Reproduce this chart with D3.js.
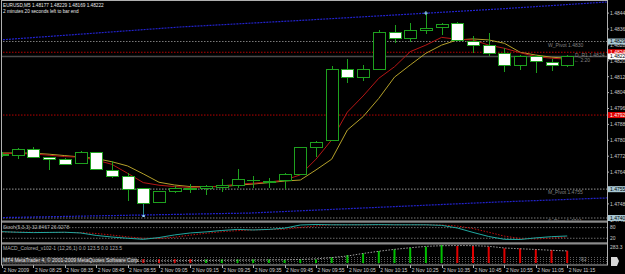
<!DOCTYPE html>
<html>
<head>
<meta charset="utf-8">
<title>EURUSD,M5</title>
<style>
body { margin: 0; background: #000; }
svg { display: block; }
text { font-family: "Liberation Sans", Arial, sans-serif; font-size: 5px; }
</style>
</head>
<body>
<svg width="625" height="274"></svg>
<script src="https://cdn.jsdelivr.net/npm/d3@7"></script>
<script>

// ---- data ----
var opens  = [1.47726,1.47725,1.47755,1.47711,1.47701,1.47684,1.47738,1.47647,1.47619,1.47557,1.47488,1.47542,1.47553,1.47559,1.47564,1.47572,1.47599,1.47595,1.47600,1.47626,1.47765,1.47798,1.48154,1.48117,1.48157,1.48341,1.48313,1.48350,1.48368,1.48389,1.48296,1.48276,1.48238,1.48175,1.48224,1.48192,1.48177];
var highs  = [1.47741,1.47761,1.47765,1.47714,1.47711,1.47746,1.47743,1.47696,1.47637,1.47560,1.47543,1.47570,1.47579,1.47575,1.47604,1.47654,1.47622,1.47610,1.47637,1.47766,1.47798,1.48174,1.48208,1.48179,1.48355,1.48380,1.48389,1.48440,1.48389,1.48397,1.48325,1.48341,1.48263,1.48227,1.48227,1.48208,1.48229];
var lows   = [1.47716,1.47706,1.47709,1.47651,1.47678,1.47681,1.47651,1.47610,1.47495,1.47419,1.47485,1.47534,1.47534,1.47525,1.47542,1.47559,1.47559,1.47559,1.47554,1.47623,1.47718,1.47797,1.48090,1.48100,1.48154,1.48288,1.48296,1.48335,1.48330,1.48300,1.48241,1.48224,1.48145,1.48154,1.48137,1.48150,1.48169];
var closes = [1.47731,1.47755,1.47711,1.47703,1.47679,1.47740,1.47654,1.47619,1.47554,1.47483,1.47540,1.47559,1.47558,1.47570,1.47572,1.47605,1.47600,1.47590,1.47629,1.47765,1.47788,1.48157,1.48117,1.48157,1.48343,1.48313,1.48350,1.48363,1.48384,1.48301,1.48279,1.48238,1.48175,1.48224,1.48195,1.48175,1.48222];

var maFast = [1.47734,1.47734,1.47731,1.47725,1.47718,1.47715,1.47701,1.47679,1.47634,1.47587,1.47574,1.47567,1.47563,1.47565,1.47570,1.47579,1.47584,1.47590,1.47600,1.47626,1.47705,1.47802,1.47942,1.48023,1.48112,1.48170,1.48246,1.48279,1.48318,1.48308,1.48305,1.48279,1.48263,1.48241,1.48221,1.48213,1.48208];
var maSlow = [1.47736,1.47736,1.47735,1.47730,1.47723,1.47716,1.47708,1.47692,1.47671,1.47631,1.47589,1.47575,1.47567,1.47567,1.47567,1.47574,1.47580,1.47587,1.47595,1.47600,1.47651,1.47705,1.47852,1.47919,1.48011,1.48118,1.48179,1.48238,1.48279,1.48305,1.48310,1.48305,1.48288,1.48243,1.48229,1.48218,1.48213];

// channel lines: [bar index, price]
var upperBand = [[-0.13,1.48305],[11.34,1.48370],[18.98,1.48403],[31.72,1.48461],[38.54,1.48496]];
var lowerBand = [[-0.13,1.47411],[15.8,1.47434],[31.72,1.47490],[38.54,1.47510]];

var pivotNames  = ["W_Pivot", "M_Pivot", "S_Pivot"];
var pivotPrices = [1.48297, 1.47554, 1.47409];
var redLevels   = [1.48243, 1.47927];
var bid = 1.48222;

var stochMain   = [57,54,52,53,54,50,36,27,20,14,24,39,50,56,64,70,67,70,77,95,98,96,96,96,97,96,96,96,93,78,53,30,14,13,22,29,32.8467];
var stochSignal = [55,55,54,53,53,52,47,38,28,20,19,26,38,48,57,63,67,69,71,81,90,96,96,96,96,96,96,96,95,89,75,54,32,19,16,21,26.9278];
var stochLevels = [80, 20];

var macdHist   = [0,0,0,0,0,0,0,0,0,60,60,60,60,55,55,55,55,55,47,55,55,90,126,153,189,216,241,257,283,268,268,257,231,231,216,205,194];
var macdUp     = [1,1,1,1,1,1,1,1,1,0,0,0,0,1,1,1,1,1,1,1,1,1,1,1,1,1,1,1,1,0,0,0,0,0,0,0,0];
var macdSignal = [40,40,40,38,36,34,32,30,30,32,34,36,38,40,42,44,46,48,50,55,65,85,110,150,185,215,240,262,272,275,273,263,236,224,213,200,190];

var priceTicks = [1.4844,1.4836,1.4828,1.4820,1.4812,1.4804,1.4796,1.4788,1.4780,1.4772,1.4764,1.4756,1.4748,1.4740];
var timeBars   = [0,2,4,6,8,10,12,14,16,18,20,22,24,26,28,30,32,34,36];
var timeLabels = ["2 Nov 2009","2 Nov 08:25","2 Nov 08:35","2 Nov 08:45","2 Nov 08:55","2 Nov 09:05","2 Nov 09:15","2 Nov 09:25","2 Nov 09:35","2 Nov 09:45","2 Nov 09:55","2 Nov 10:05","2 Nov 10:15","2 Nov 10:25","2 Nov 10:35","2 Nov 10:45","2 Nov 10:55","2 Nov 11:05","2 Nov 11:15"];

var symbol = "EURUSD,M5";
var countdown = "2 minutes 20 seconds left to bar end";

// ---- layout ----
var svg = d3.select("svg"),
    width = +svg.attr("width"),
    height = +svg.attr("height");
var axisX = 607;

var x = d3.scaleLinear().domain([0, 36]).range([2, 567.2]);
var y = d3.scaleLinear().domain([1.4740, 1.4844]).range([219.8, 13.1]);
var ySt = d3.scaleLinear().domain([0, 100]).range([241.8, 224.1]);
var yMd = d3.scaleLinear().domain([0, 283.3]).range([263, 245]);
var fmt5 = d3.format(".5f"), fmt4 = d3.format(".4f");

svg.append("rect").attr("width", width).attr("height", height).attr("fill", "#000");

var defs = svg.append("defs");
defs.append("clipPath").attr("id", "cMain").append("rect").attr("x", 1).attr("y", 1).attr("width", axisX - 1).attr("height", 219.5);
defs.append("clipPath").attr("id", "cSt").append("rect").attr("x", 1).attr("y", 223).attr("width", axisX - 1).attr("height", 19.5);
defs.append("clipPath").attr("id", "cMd").append("rect").attr("x", 1).attr("y", 245).attr("width", axisX - 1).attr("height", 19.5);

// ---- main window ----
var main = svg.append("g").attr("clip-path", "url(#cMain)");

main.selectAll(".pivot").data(pivotPrices).enter().append("line")
    .attr("x1", 0).attr("x2", axisX)
    .attr("y1", function(d) { return y(d); }).attr("y2", function(d) { return y(d); })
    .attr("stroke", "#7a7a7a").attr("stroke-width", 1.2).attr("stroke-dasharray", "1.5,1.5");

main.selectAll(".redlvl").data(redLevels).enter().append("line")
    .attr("x1", 0).attr("x2", axisX)
    .attr("y1", function(d) { return y(d); }).attr("y2", function(d) { return y(d); })
    .attr("stroke", "#b80000").attr("stroke-width", 1).attr("stroke-dasharray", "1.5,1.5");

main.append("line").attr("x1", 0).attr("x2", axisX).attr("y1", y(bid)).attr("y2", y(bid))
    .attr("stroke", "#4a4a4a").attr("stroke-width", 1.5);

var band = d3.line().x(function(d) { return x(d[0]); }).y(function(d) { return y(d[1]); });
[upperBand, lowerBand].forEach(function(b) {
  main.append("path").attr("d", band(b)).attr("fill", "none")
      .attr("stroke", "#2222cc").attr("stroke-width", 1.2).attr("stroke-dasharray", "2,1");
});

var maLine = d3.line().x(function(d, i) { return x(i); }).y(function(d) { return y(d); });
main.append("path").attr("d", maLine(maSlow)).attr("fill", "none").attr("stroke", "#b4a02a").attr("stroke-width", 1);
main.append("path").attr("d", maLine(maFast)).attr("fill", "none").attr("stroke", "#b41616").attr("stroke-width", 1);

var candle = main.selectAll(".candle").data(opens).enter().append("g")
    .attr("shape-rendering", "crispEdges");
candle.append("line")
    .attr("x1", function(d, i) { return Math.round(x(i)) + 0.5; })
    .attr("x2", function(d, i) { return Math.round(x(i)) + 0.5; })
    .attr("y1", function(d, i) { return y(highs[i]); })
    .attr("y2", function(d, i) { return y(lows[i]); })
    .attr("stroke", function(d, i) { return i === 9 ? "#2a8c8c" : "#1ea01e"; });
candle.append("rect")
    .attr("x", function(d, i) { return Math.round(x(i)) - 5.5; })
    .attr("width", 12)
    .attr("y", function(d, i) { return y(Math.max(opens[i], closes[i])); })
    .attr("height", function(d, i) { return Math.max(0.5, Math.abs(y(opens[i]) - y(closes[i]))); })
    .attr("fill", function(d, i) { return closes[i] >= opens[i] ? "#000" : "#fff"; })
    .attr("stroke", "#1ea01e").attr("stroke-width", 1);

// fractal-style markers at the extremes
main.append("rect").attr("x", x(9) - 1).attr("y", y(lows[9]) - 1).attr("width", 2.5).attr("height", 2).attr("fill", "#8fd0ff");
main.append("path").attr("d", "M" + (x(27) - 2) + "," + y(highs[27]) + "h4M" + x(27) + "," + (y(highs[27]) - 2) + "v4")
    .attr("stroke", "#8fd0ff").attr("stroke-width", 1);

// pivot labels
main.selectAll(".plabel").data(pivotPrices).enter().append("text")
    .attr("x", 548).attr("y", function(d) { return y(d) + 5; })
    .attr("fill", "#808080")
    .text(function(d, i) { return pivotNames[i] + " " + fmt4(d); });
main.append("text").attr("x", 575).attr("y", y(redLevels[0]) + 5).attr("fill", "#808080").text("D_R1 " + fmt4(redLevels[0]));
main.append("text").attr("x", 574).attr("y", y(bid) + 6).attr("fill", "#808080").text("\u2190 2:20");

// header
svg.append("text").attr("x", 3).attr("y", 7).attr("fill", "#e8e8e8").style("font-size", "4.7px")
    .text(symbol + "  " + [opens[36], highs[36], lows[36], closes[36]].map(fmt5).join(" "));
svg.append("text").attr("x", 3).attr("y", 12.5).attr("fill", "#e8e8e8").style("font-size", "4.7px").text(countdown);

// ---- stochastic ----
var st = svg.append("g").attr("clip-path", "url(#cSt)");
st.selectAll(".lvl").data(stochLevels).enter().append("line")
    .attr("x1", 0).attr("x2", axisX)
    .attr("y1", function(d) { return ySt(d); }).attr("y2", function(d) { return ySt(d); })
    .attr("stroke", "#6a6a6a").attr("stroke-dasharray", "1.5,1.5");
var stLine = d3.line().x(function(d, i) { return x(i); }).y(function(d) { return ySt(d); });
st.append("path").attr("d", stLine(stochSignal)).attr("fill", "none").attr("stroke", "#c01010").attr("stroke-dasharray", "1.5,1.5");
st.append("path").attr("d", stLine(stochMain)).attr("fill", "none").attr("stroke", "#20a8a0").attr("stroke-width", 1);
st.append("text").attr("x", 3).attr("y", 228.5).attr("fill", "#b0b0b0")
    .text("Stoch(5,3,3) " + stochMain[36].toFixed(4) + " " + stochSignal[36].toFixed(4));

// ---- MACD ----
var md = svg.append("g").attr("clip-path", "url(#cMd)");
md.selectAll(".tick").data(d3.range(3, axisX, 3)).enter().append("line")
    .attr("x1", function(d) { return d + 0.5; }).attr("x2", function(d) { return d + 0.5; })
    .attr("y1", 257).attr("y2", 263.5)
    .attr("stroke", "#5e5e5e").attr("stroke-dasharray", "1,1");
md.selectAll(".hb").data(macdHist).enter().append("rect")
    .attr("x", function(d, i) { return x(i) - 1; }).attr("width", 2)
    .attr("y", function(d) { return yMd(d); })
    .attr("height", function(d) { return yMd(0) - yMd(d); })
    .attr("fill", function(d, i) { return macdUp[i] ? "#00c000" : "#e00000"; });
var mdLine = d3.line().x(function(d, i) { return x(i); }).y(function(d) { return yMd(d); });
md.append("path").attr("d", mdLine(macdSignal)).attr("fill", "none").attr("stroke", "#a0a0a0").attr("stroke-dasharray", "1.5,1.5");
md.append("text").attr("x", 3).attr("y", 250).attr("fill", "#b0b0b0").text("MACD_Colored_v102-1 (12,26,1) 0.0 123.5 0.0 123.5");
md.append("rect").attr("x", 1).attr("y", 257.5).attr("width", 136).attr("height", 6).attr("fill", "#3a3a3a");
md.append("text").attr("x", 3).attr("y", 262.3).attr("fill", "#e0e0e0").text("MT4 MetaTrader 4, \u00a9 2001-2009 MetaQuotes Software Corp.");
md.append("text").attr("x", 580).attr("y", 261).attr("fill", "#909090").text("9|2");

// ---- frames and separators ----
svg.append("rect").attr("x", 1).attr("y", 220.5).attr("width", axisX).attr("height", 2.2).attr("fill", "#8c8c8c");
svg.append("rect").attr("x", 1).attr("y", 242.3).attr("width", axisX).attr("height", 2.2).attr("fill", "#8c8c8c");
svg.append("rect").attr("x", 1.5).attr("y", 0.5).attr("width", axisX - 1).attr("height", 264.5)
    .attr("fill", "none").attr("stroke", "#b0b0b0").attr("stroke-width", 1);

// ---- price axis ----
var pAxis = svg.append("g");
pAxis.selectAll("text").data(priceTicks).enter().append("text")
    .attr("x", 610).attr("y", function(d) { return y(d) + 1.8; })
    .attr("fill", "#c8c8c8").text(fmt5);
pAxis.selectAll("line").data(priceTicks).enter().append("line")
    .attr("x1", axisX).attr("x2", axisX + 2)
    .attr("y1", function(d) { return y(d); }).attr("y2", function(d) { return y(d); })
    .attr("stroke", "#b0b0b0");

var tags = [
  {p: pivotPrices[0], bg: "#a8c8d4", fg: "#000"},
  {p: redLevels[0], bg: "#e00000", fg: "#fff"},
  {p: bid, bg: "#ffffff", fg: "#000"},
  {p: redLevels[1], bg: "#e00000", fg: "#fff"},
  {p: pivotPrices[1], bg: "#a8c8d4", fg: "#000"},
  {p: pivotPrices[2], bg: "#a8c8d4", fg: "#000"}
];
var tag = pAxis.selectAll(".tag").data(tags).enter().append("g");
tag.append("rect").attr("x", 608).attr("width", 17).attr("y", function(d) { return y(d.p) - 3; }).attr("height", 6)
    .attr("fill", function(d) { return d.bg; });
tag.append("text").attr("x", 610).attr("y", function(d) { return y(d.p) + 1.8; })
    .attr("fill", function(d) { return d.fg; }).text(function(d) { return fmt5(d.p); });

svg.selectAll(".stlab").data(stochLevels).enter().append("text")
    .attr("x", 610).attr("y", function(d) { return ySt(d) + 1.8; })
    .attr("fill", "#c8c8c8").text(function(d) { return d; });
svg.append("text").attr("x", 610).attr("y", yMd(283.3) + 3.5).attr("fill", "#c8c8c8").text("283.3");
svg.append("path").attr("d", "M611,257 l6,0 l2,4 l-2,5 l-6,0 z").attr("fill", "#d8d8d8");

// ---- time axis ----
var tAxis = svg.selectAll(".tl").data(timeBars).enter().append("g");
tAxis.append("line")
    .attr("x1", function(d) { return Math.round(x(d)) + 0.5; }).attr("x2", function(d) { return Math.round(x(d)) + 0.5; })
    .attr("y1", 265).attr("y2", 268).attr("stroke", "#b0b0b0");
tAxis.append("text")
    .attr("x", function(d) { return x(d) + 1.5; }).attr("y", 271.5)
    .attr("fill", "#d0d0d0").text(function(d, i) { return timeLabels[i]; });

</script>
</body>
</html>
